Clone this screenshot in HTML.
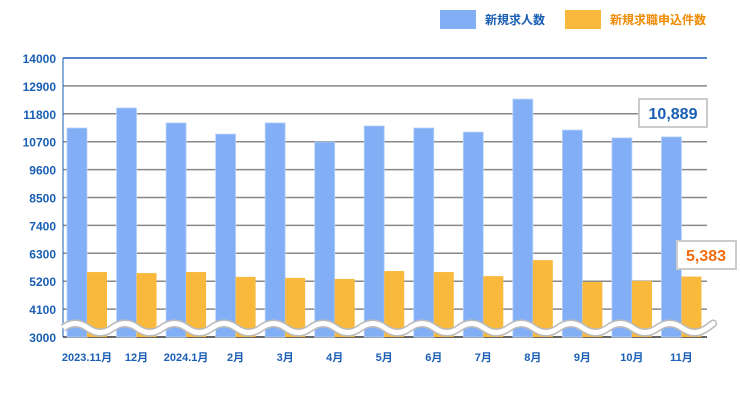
<!DOCTYPE html>
<html><head><meta charset="utf-8"><style>
body{margin:0;background:#fff;font-family:"Liberation Sans","Noto Sans CJK JP",sans-serif}
svg text{font-family:"Liberation Sans","Noto Sans CJK JP",sans-serif}
</style></head><body>
<svg id="c" width="740" height="400" xmlns="http://www.w3.org/2000/svg">
<rect x="440" y="10" width="36" height="19" fill="#82aef5"/>
<text x="485" y="24" font-size="12" font-weight="bold" fill="#1a5fb4">新規求人数</text>
<rect x="565" y="10" width="36" height="19" fill="#f8b93c"/>
<text x="610" y="24" font-size="12" font-weight="bold" fill="#f08a00">新規求職申込件数</text>
<g id="grid"></g><g id="bars"></g><g id="wave"></g><g id="labels"></g>
<rect x="639" y="99" width="68" height="28" fill="#fff" stroke="#ccc" stroke-width="2"/>
<text x="673" y="119" font-size="16" font-weight="bold" fill="#1a5fb4" text-anchor="middle">10,889</text>
<rect x="677" y="241" width="59" height="28" fill="#fff" stroke="#ccc" stroke-width="2"/>
<text x="706" y="261" font-size="16" font-weight="bold" fill="#f26b0f" text-anchor="middle">5,383</text>
</svg>
<script>
const categories=["2023.11月","12月","2024.1月","2月","3月","4月","5月","6月","7月","8月","9月","10月","11月"];
const jobs=[11240,12030,11440,11000,11440,10690,11320,11240,11080,12380,11160,10850,10889];
const applications=[5560,5520,5560,5370,5330,5290,5600,5560,5400,6030,5170,5210,5383];
const ticks=[3000,4100,5200,6300,7400,8500,9600,10700,11800,12900,14000];
const NS="http://www.w3.org/2000/svg";
const x0=63,x1=707,yTop=58,yBot=337,vmin=3000,vmax=14000;
const y=v=>yBot-(v-vmin)/(vmax-vmin)*(yBot-yTop);
const step=(x1-x0)/categories.length;
const gx=i=>x0+i*step+4;
function mk(t,a,p){const e=document.createElementNS(NS,t);for(const k in a)e.setAttribute(k,a[k]);p.appendChild(e);return e;}
const grid=document.getElementById('grid'),bars=document.getElementById('bars'),lab=document.getElementById('labels'),wave=document.getElementById('wave');
ticks.forEach((t,i)=>{
 const l=mk('line',{x1:x0,x2:x1,y1:y(t),y2:y(t),stroke:i==ticks.length-1?'#1a5fb4':(i==0?'#333':'#888'),'stroke-width':1.5},grid);
 
 
 const tx=mk('text',{x:56,y:y(t)+5,'font-size':12,'font-weight':'bold',fill:'#1a5fb4','text-anchor':'end'},lab);
 tx.textContent=t;
 
 
});
const ax=mk('line',{x1:x0,x2:x0,y1:yTop,y2:yBot,stroke:'#1a5fb4','stroke-width':1},grid);


categories.forEach((c,i)=>{
 const b=mk('rect',{x:gx(i),y:y(jobs[i]),width:20,height:yBot-y(jobs[i]),fill:'#82aef5',stroke:'#b9d2fa','stroke-width':0.8},bars);
 
 
 const o=mk('rect',{x:gx(i)+20,y:y(applications[i]),width:20,height:yBot-y(applications[i]),fill:'#f8b93c'},bars);
 
 
 const tx=mk('text',{x:gx(i)+20,y:361,'font-size':11,'font-weight':'bold',fill:'#1a5fb4','text-anchor':'middle'},lab);
 tx.textContent=c;
 
 
});
let d='M'+x0+' 330';
for(let xx=x0;xx<x1;xx+=step/2){d+=' Q'+(xx+step/4)+' '+(xx%2?322:338)+' '+(xx+step/2)+' 330';}
let dd='M'+x0+' 328';let k=0;
for(let xx=x0;xx<x1;xx+=step/2,k++){dd+=' Q'+(xx+step/4)+' '+(k%2?337:319)+' '+Math.min(xx+step/2,x1)+' 328';}
const w=mk('path',{d:dd,fill:'none',stroke:'#bbb','stroke-width':8},wave);


const w2=mk('path',{d:dd,fill:'none',stroke:'#fff','stroke-width':5},wave);


</script>
</body></html>
